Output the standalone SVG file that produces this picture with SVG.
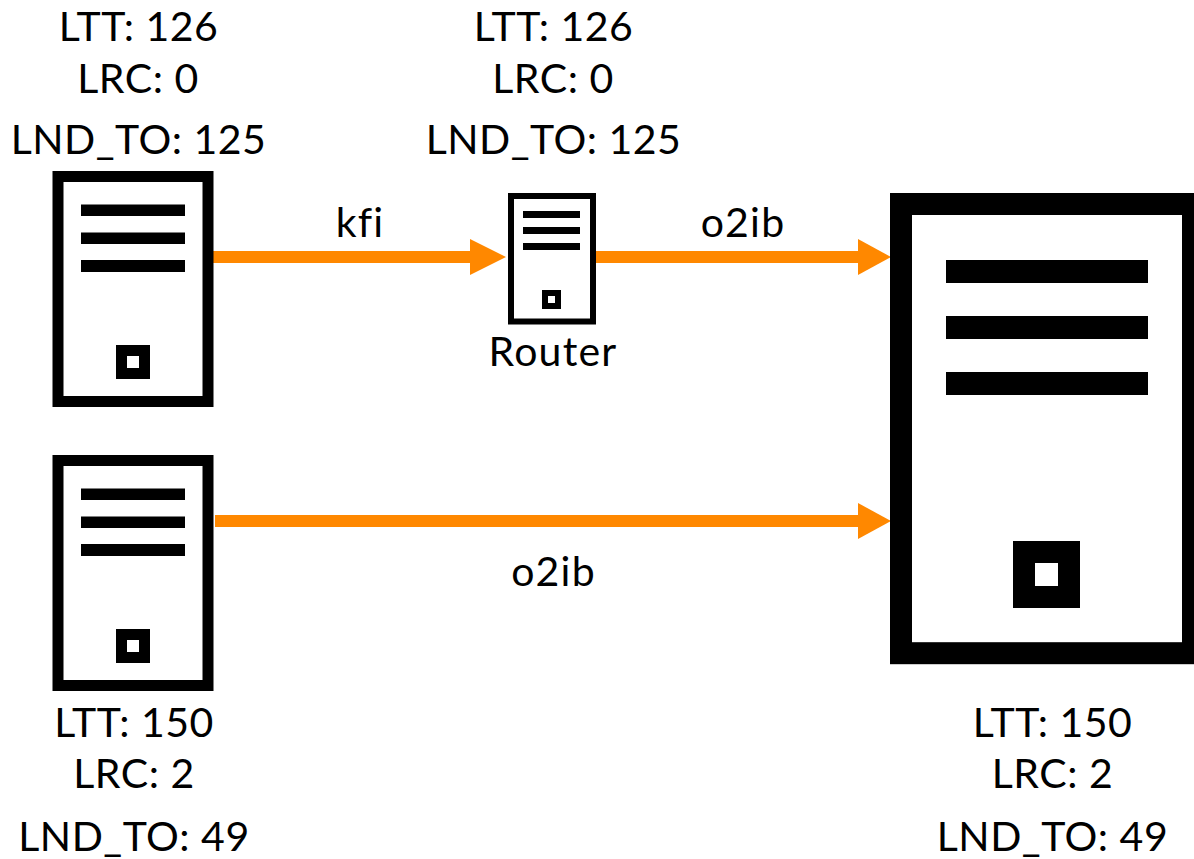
<svg xmlns="http://www.w3.org/2000/svg" width="1194" height="859" viewBox="0 0 1194 859">
<style>
text{font-family:"Lato","Open Sans","Liberation Sans",sans-serif;font-size:41px;letter-spacing:.5px;fill:#000;text-anchor:middle}
.w{letter-spacing:1.2px}
.f{fill:#fff;stroke:#000}
.b{fill:#000}
.c{stroke:#ff8800;stroke-width:12;fill:none}
.h{fill:#ff8800}
</style>
<rect width="1194" height="859" fill="#fff"/>
<g id="connectors">
<path class="c" d="M213 257H472"/><path class="h" d="M470 239L506 257L470 275Z"/>
<path class="c" d="M595 257H860"/><path class="h" d="M858 239L891 257L858 275Z"/>
<path class="c" d="M215 521H860"/><path class="h" d="M858 503L891 521L858 539Z"/>
</g>
<g id="node-a">
<rect class="f" x="58" y="176.500" width="150" height="225" stroke-width="11"/>
<rect class="b" x="81" y="204.500" width="104" height="11.500"/><rect class="b" x="81" y="232.500" width="104" height="11.500"/><rect class="b" x="81" y="260" width="104" height="12"/>
<rect class="b" x="116" y="345" width="34" height="34"/><rect x="127" y="356" width="12" height="12" fill="#fff"/>
<text x="138.500" y="41">LTT: 126</text><text x="138" y="93">LRC: 0</text><text x="138.500" y="154">LND_TO: 125</text>
</g>
<g id="node-b">
<rect class="f" x="58" y="460.500" width="150" height="225" stroke-width="11"/>
<rect class="b" x="81" y="488.500" width="104" height="11.500"/><rect class="b" x="81" y="516.500" width="104" height="11.500"/><rect class="b" x="81" y="544" width="104" height="12"/>
<rect class="b" x="116" y="629" width="34" height="34"/><rect x="127" y="640" width="12" height="12" fill="#fff"/>
<text x="134" y="737">LTT: 150</text><text x="134" y="788">LRC: 2</text><text x="134" y="851">LND_TO: 49</text>
</g>
<g id="router">
<rect class="f" x="511" y="196" width="82" height="125.500" stroke-width="6"/>
<rect class="b" x="523" y="211" width="57" height="7"/><rect class="b" x="523" y="227" width="57" height="7"/><rect class="b" x="523" y="243" width="57" height="7"/>
<rect class="b" x="542" y="290" width="19" height="19"/><rect x="548" y="296" width="7" height="7" fill="#fff"/>
<text x="553.500" y="41">LTT: 126</text><text x="553" y="93">LRC: 0</text><text x="553.500" y="154">LND_TO: 125</text>
<text class="w" x="553" y="366">Router</text>
</g>
<g id="node-c">
<rect class="f" x="901" y="204" width="292" height="449.200" stroke-width="22"/>
<rect class="b" x="946" y="260" width="202" height="23"/><rect class="b" x="946" y="316" width="202" height="23"/><rect class="b" x="946" y="372" width="202" height="23"/>
<rect class="b" x="1013" y="541" width="67" height="67"/><rect x="1035" y="563" width="23" height="23" fill="#fff"/>
<text x="1052.500" y="737">LTT: 150</text><text x="1052.500" y="788">LRC: 2</text><text x="1052.500" y="851">LND_TO: 49</text>
</g>
<g id="labels">
<text class="w" x="360" y="237">kfi</text><text class="w" x="743" y="237">o2ib</text><text class="w" x="553.500" y="586">o2ib</text>
</g>
</svg>
